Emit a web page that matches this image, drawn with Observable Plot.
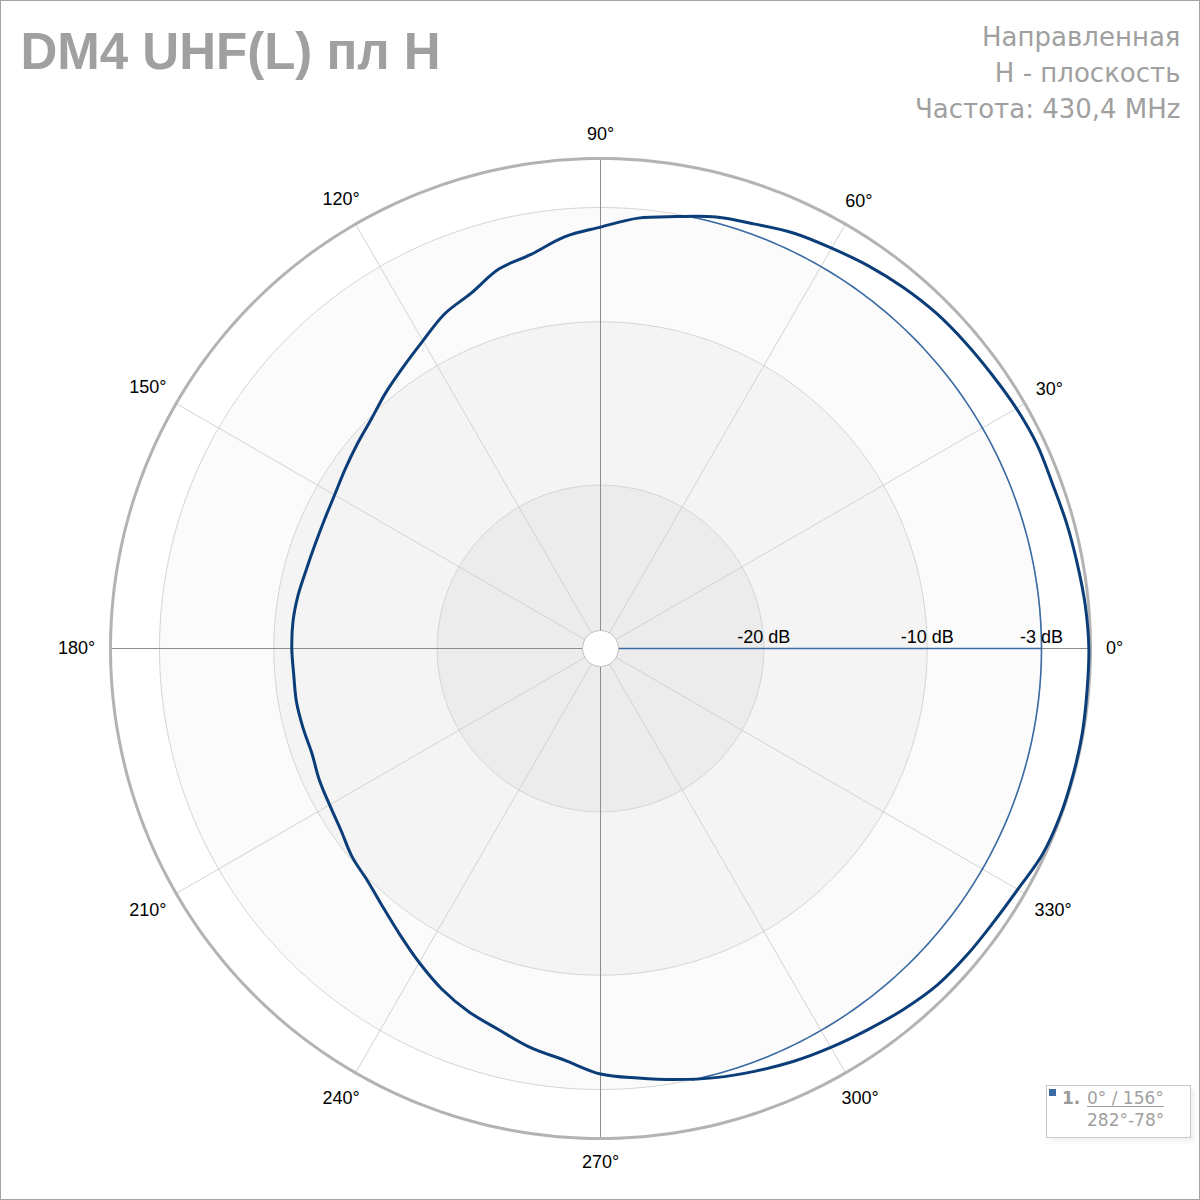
<!DOCTYPE html>
<html>
<head>
<meta charset="utf-8">
<script src="https://cdn.jsdelivr.net/npm/d3@7"></script>
<script src="https://cdn.jsdelivr.net/npm/@observablehq/plot@0.6"></script>
<style>
  html, body { margin: 0; padding: 0; background: #fff; }
  #page { position: relative; width: 1200px; height: 1200px; overflow: hidden; font-family: "DejaVu Sans", sans-serif; }
  #chart { position: absolute; left: 0; top: 0; }
  #border { position: absolute; left: 0; top: 0; width: 1198px; height: 1198px; border: 1px solid #a3a3a3; pointer-events: none; }
  #legend { position: absolute; left: 1046px; top: 1085px; width: 143px; height: 51px; border: 1px solid #c8c8c8; background: #fff; box-shadow: 4px 4px 5px rgba(0,0,0,0.06); font-family: "DejaVu Sans", sans-serif; color: #a0a0a0; }
  #legend .sw { position: absolute; left: 2px; top: 3px; width: 7px; height: 7px; background: #3a6ba3; }
  #legend .num { position: absolute; left: 15px; top: 1px; font-size: 17px; font-weight: bold; color: #9a9a9a; line-height: 22px; }
  #legend .l1 { position: absolute; left: 40px; top: 1px; font-size: 17px; line-height: 22px; text-decoration: underline; text-underline-offset: 2px; }
  #legend .l2 { position: absolute; left: 40px; top: 23px; font-size: 17px; line-height: 22px; }
</style>
</head>
<body>
<div id="page">
  <div id="chart"></div>
  <div id="legend"><div class="sw"></div><div class="num">1.</div><div class="l1">0° / 156°</div><div class="l2">282°-78°</div></div>
  <div id="border"></div>
</div>
<script>
// ---- data ----
const angles = [0,5,10,15,20,25,30,35,40,45,50,55,60,65,70,75,80,85,90,95,100,105,110,115,120,125,130,135,140,145,150,155,160,165,170,175,180,185,190,195,200,205,210,215,220,225,230,235,240,245,250,255,260,265,270,275,280,285,290,295,300,305,310,315,320,325,330,335,340,345,350,355];
const gainDb = [-0.1,-0.2,-0.35,-0.45,-0.55,-0.5,-0.6,-0.75,-0.85,-0.95,-1.15,-1.4,-1.7,-1.95,-2.35,-2.65,-3.15,-3.55,-4.2,-4.7,-5.5,-5.95,-6.85,-7.4,-8.25,-8.95,-9.55,-10.15,-10.55,-10.9,-11.2,-11.35,-11.4,-11.35,-11.2,-11.1,-11.1,-11.15,-11.1,-11.15,-11.2,-11.0,-10.85,-10.6,-10.15,-9.85,-9.3,-8.6,-7.8,-7.0,-6.35,-5.85,-5.2,-4.7,-3.95,-3.6,-3.2,-2.8,-2.45,-2.1,-1.8,-1.5,-1.15,-0.85,-0.75,-0.68,-0.5,-0.15,-0.05,-0.05,-0.05,-0.1];
const ringLevels = [-3, -10, -20];
const ringLabels = ["-3 dB", "-10 dB", "-20 dB"];
const spokeAngles = [0,30,60,90,120,150,180,210,240,270,300,330];
const angleLabels = ["0°","30°","60°","90°","120°","150°","180°","210°","240°","270°","300°","330°"];
const dbMin = -30, dbMax = 0;
const peakAngle = 0;
const beamStart = 282, beamEnd = 78; // -3 dB beam, width 156°
const titleText = "DM4 UHF(L) пл H";
const subtitleLines = ["Направленная", "H - плоскость", "Частота: 430,4 MHz"];

// ---- polar helpers ----
const rho = db => (db - dbMin) / (dbMax - dbMin);
const rad = a => a * Math.PI / 180;
const px = (a, r) => r * Math.cos(rad(a));
const py = (a, r) => r * Math.sin(rad(a));
const circle = db => d3.range(0, 361, 1).map(a => ({a, r: rho(db)}));
// label distance outside the outer ring, in units of the outer radius (490 px)
const labelR = (a, i) => (514 + (angleLabels[i].length - 2) * 5 * Math.abs(Math.cos(rad(a)))) / 490;

const curve = angles.map((a, i) => ({a, r: rho(gainDb[i])}));
const beamArc = d3.range(beamStart, 360 + beamEnd + 0.5, 1).map(a => ({a: a % 360, r: rho(-3)}));
const fills = {"-3": "#fbfbfb", "-10": "#f4f4f4", "-20": "#ececec"};

const X = d => px(d.a, d.r), Y = d => py(d.a, d.r);
const labelFont = "Liberation Sans, Arial, sans-serif";

const chart = Plot.plot({
  width: 1200, height: 1200, margin: 0,
  x: {domain: [-1, 1], range: [110, 1090], axis: null},
  y: {domain: [-1, 1], range: [1138, 158], axis: null},
  style: {fontFamily: "DejaVu Sans, sans-serif", background: "transparent"},
  marks: [
    ...ringLevels.map(l => Plot.line(circle(l), {x: X, y: Y, fill: fills[String(l)], stroke: "#d5d5d5", strokeWidth: 1})),
    Plot.link(spokeAngles.filter(a => a % 90 !== 0), {x1: 0, y1: 0, x2: a => px(a, 1), y2: a => py(a, 1), stroke: "#d2d2d2", strokeWidth: 1}),
    Plot.link(spokeAngles.filter(a => a % 90 === 0), {x1: 0, y1: 0, x2: a => px(a, 1), y2: a => py(a, 1), stroke: "#8e8e8e", strokeWidth: 1}),
    Plot.line(beamArc, {x: X, y: Y, stroke: "#3a6ba3", strokeWidth: 1.6}),
    Plot.link([peakAngle], {x1: 0, y1: 0, x2: a => px(a, rho(-3)), y2: a => py(a, rho(-3)), stroke: "#3a6ba3", strokeWidth: 1.6}),
    Plot.line(circle(dbMax), {x: X, y: Y, stroke: "#b3b3b3", strokeWidth: 3}),
    Plot.line(curve, {x: X, y: Y, stroke: "#0b3d78", strokeWidth: 3, curve: "catmull-rom-closed"}),
    Plot.dot([{a: 0, r: 0}], {x: X, y: Y, r: 18, fill: "white", stroke: "#c0c0c0", strokeWidth: 1}),
    Plot.text(ringLevels, {x: l => rho(l), y: 0, dy: -11, text: (l, i) => ringLabels[i], fontSize: 18, fontFamily: labelFont, fill: "black", textAnchor: "middle"}),
    Plot.text(spokeAngles, {x: (a, i) => px(a, labelR(a, i)), y: (a, i) => py(a, labelR(a, i)), text: (a, i) => angleLabels[i], fontSize: 18, fontFamily: labelFont, fill: "black", textAnchor: "middle"}),
    Plot.text([titleText], {frameAnchor: "top-left", dx: 20, dy: 68, lineAnchor: "bottom", textAnchor: "start", fontSize: 51, fontWeight: "bold", fontFamily: "Liberation Sans, Arial, sans-serif", fill: "#a0a0a0"}),
    Plot.text([subtitleLines.join("\n")], {frameAnchor: "top-right", dx: -20, dy: 19.5, lineAnchor: "top", lineHeight: 36/26, textAnchor: "end", fontSize: 26, fill: "#a0a0a0"})
  ]
});
document.getElementById("chart").appendChild(chart);
</script>
</body>
</html>
